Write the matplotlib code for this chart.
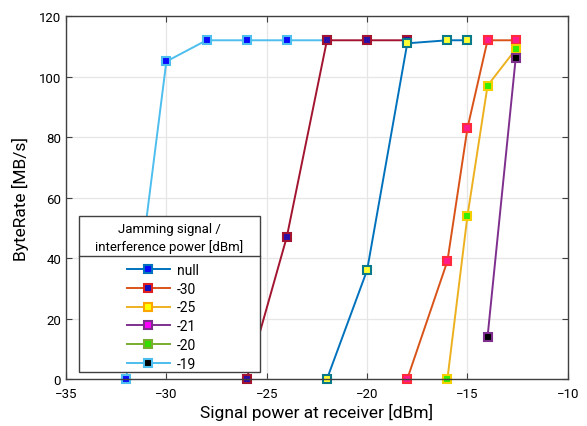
import numpy as np
import matplotlib
matplotlib.use('Agg')
import matplotlib.pyplot as plt
from matplotlib.lines import Line2D
from matplotlib.patches import Rectangle

plt.rcParams['font.family'] = ['Roboto', 'DejaVu Sans']

# series as they appear in the plot (power at receiver [dBm], byterate [MB/s])
x_lightblue = [-32, -30, -28, -26, -24, -22]
y_lightblue = [0, 105, 112, 112, 112, 112]

x_darkred = [-26, -24, -22, -20, -18]
y_darkred = [0, 47, 112, 112, 112]

x_blue = [-22, -20, -18, -16, -15]
y_blue = [0, 36, 111, 112, 112]

x_orange = [-18, -16, -15, -14, -12.6]
y_orange = [0, 39, 83, 112, 112]

x_gold = [-16, -15, -14, -12.6]
y_gold = [0, 54, 97, 109]

x_purple = [-14, -12.6]
y_purple = [14, 106]

legend_labels = ['null', '-30', '-25', '-21', '-20', '-19']
legend_title = 'Jamming signal /\ninterference power [dBm]'

xticks = [-35, -30, -25, -20, -15, -10]
yticks = [0, 20, 40, 60, 80, 100, 120]

fig = plt.figure(figsize=(5.87, 4.27), dpi=100)
ax = fig.add_axes([0.1124, 0.110, 0.855, 0.850])

ms = 6
mew = 1.5
lw = 1.4
# (line colour, marker face, marker edge)
ax.plot(x_lightblue, y_lightblue, '-s', color='#4DBEEE', lw=lw, ms=ms,
        mfc='#0a0aff', mec='#4DBEEE', mew=mew, clip_on=False)
ax.plot(x_darkred, y_darkred, '-s', color='#A2142F', lw=lw, ms=ms,
        mfc='#2a10a8', mec='#A2142F', mew=mew, clip_on=False)
ax.plot(x_blue, y_blue, '-s', color='#0072BD', lw=lw, ms=ms,
        mfc='#ffff33', mec='#0a7a8a', mew=mew, clip_on=False)
ax.plot(x_orange, y_orange, '-s', color='#D95319', lw=lw, ms=ms,
        mfc='#ff1a8c', mec='#ff2a3a', mew=mew, clip_on=False)
ax.plot(x_gold, y_gold, '-s', color='#EDB120', lw=lw, ms=ms,
        mfc='#33ee00', mec='#f5d000', mew=mew, clip_on=False)
ax.plot(x_purple, y_purple, '-s', color='#7E2F8E', lw=lw, ms=ms,
        mfc='#000000', mec='#7E2F8E', mew=mew, clip_on=False)

ax.set_xlim(-35, -10)
ax.set_ylim(0, 120)
ax.set_xticks(xticks)
ax.set_yticks(yticks)
ax.grid(True, color='#e6e6e6', lw=0.9)
ax.set_axisbelow(True)
ax.tick_params(direction='in', top=True, right=True, labelsize=9.5,
               color='#404040', length=4)
ax.tick_params(axis='x', pad=6)
for s in ax.spines.values():
    s.set_color('#404040')
    s.set_linewidth(1.0)

ax.set_xlabel('Signal power at receiver [dBm]', fontsize=12.5, labelpad=2)
ax.set_ylabel('ByteRate [MB/s]', fontsize=12.5, labelpad=7)

# legend box with title and separator line
bx, by, bw, bh = 0.026, 0.019, 0.36, 0.430
ax.add_patch(Rectangle((bx, by), bw, bh, transform=ax.transAxes,
                       facecolor='white', edgecolor='#404040', lw=1.0, zorder=5))
ax.text(bx + bw / 2, 0.390, legend_title, transform=ax.transAxes,
        ha='center', va='center', fontsize=9.5, zorder=6, linespacing=1.35)
ax.plot([bx, bx + bw], [0.340, 0.340], transform=ax.transAxes,
        color='#404040', lw=1.0, zorder=6, clip_on=False)

handle_styles = [
    ('#0072BD', '#0a0aff', '#0072BD'),
    ('#D95319', '#1010c0', '#e02020'),
    ('#EDB120', '#ffff00', '#ffa500'),
    ('#7E2F8E', '#ff00ff', '#7E2F8E'),
    ('#77AC30', '#33dd00', '#77AC30'),
    ('#4DBEEE', '#000000', '#4DBEEE'),
]
handles = [Line2D([], [], color=c, marker='s', lw=lw, ms=ms, mfc=f, mec=e, mew=mew)
           for c, f, e in handle_styles]
leg = ax.legend(handles, legend_labels, loc='upper left',
                bbox_to_anchor=(0.11, 0.335), frameon=False, fontsize=10,
                handlelength=3.1, handletextpad=0.5, labelspacing=0.34,
                borderaxespad=0.0)
leg.set_zorder(7)

fig.savefig('out.png', dpi=100)
